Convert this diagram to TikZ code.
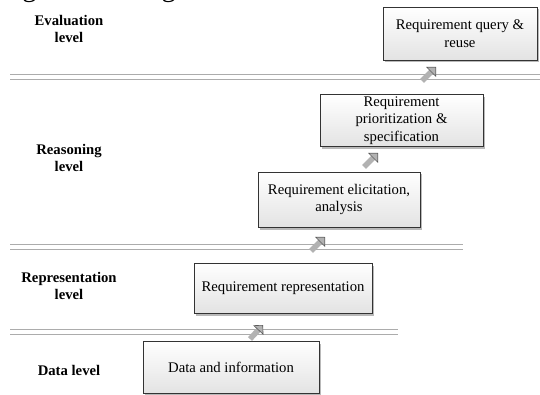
\documentclass[tikz,border=0pt]{standalone}
\usepackage{fontspec}
\setmainfont{Liberation Serif}
\usetikzlibrary{arrows.meta,shadows}

\begin{document}
\begin{tikzpicture}[x=1pt,y=-1pt,
	stage/.style={
		shape=rectangle,
		draw=black!80,
		line width=0.8pt,
		top color=white,
		bottom color=gray!22,
		drop shadow={shadow xshift=2pt,shadow yshift=-2.5pt,fill=gray!55,opacity=1},
		align=center,
		inner sep=2pt,
		font=\fontsize{14.7}{17.5}\selectfont},
	levelname/.style={align=center,font=\fontsize{14.7}{17}\selectfont\bfseries},
	divider/.style={draw=gray!65,line width=1.1pt,double=white,double distance=3.5pt},
	uparrow/.style={draw=gray!60,line width=5.5pt,-{Triangle[length=7pt,width=14pt,line width=0.6pt,fill=gray!60,color=gray!70!black]}}
	]
	\useasboundingbox (0,0) rectangle (540,395);
	\begin{scope}
		\clip (0,0) rectangle (540,395);
		\node[anchor=base west,inner sep=0pt,font=\fontsize{28.5}{30}\selectfont] (pagetext) at (0,-3) {ing the existing relevant works.};
	\end{scope}
	
	\node[levelname] (evallevel) at (69,28.5) {Evaluation\\level};
	\node[levelname] (reasonlevel) at (69,157.5) {Reasoning\\level};
	\node[levelname] (reprlevel) at (69,285.5) {Representation\\level};
	\node[levelname] (datalevel) at (69,370) {Data level};
	
	\draw[divider] (10,77) -- (540,77);
	\draw[divider] (10,247) -- (463,247);
	\draw[divider] (10,332) -- (398,332);
	
	\node[stage,minimum width=154pt,minimum height=53pt] (query) at (460,33.5) {Requirement query \&\\reuse};
	\node[stage,minimum width=163pt,minimum height=50pt] (prior) at (401.5,120.5) {Requirement\\prioritization \&\\specification};
	\node[stage,minimum width=162pt,minimum height=55pt] (elicit) at (339,199.5) {Requirement elicitation,\\analysis};
	\node[stage,minimum width=178pt,minimum height=50pt] (repr) at (283,288) {Requirement representation};
	\node[stage,minimum width=176pt,minimum height=52pt] (data) at (231,367.5) {Data and information};
	
	\coordinate (datatail) at (250,339);
	\coordinate (datahead) at (263,325);
	\coordinate (reprtail) at (311,251);
	\coordinate (reprhead) at (325,237);
	\coordinate (elicittail) at (364,167);
	\coordinate (elicithead) at (378,153);
	\coordinate (priortail) at (422,81);
	\coordinate (priorhead) at (436,67);
	
	\draw[uparrow] (datatail) -- (datahead);
	\draw[uparrow] (reprtail) -- (reprhead);
	\draw[uparrow] (elicittail) -- (elicithead);
	\draw[uparrow] (priortail) -- (priorhead);
\end{tikzpicture}
\end{document}
